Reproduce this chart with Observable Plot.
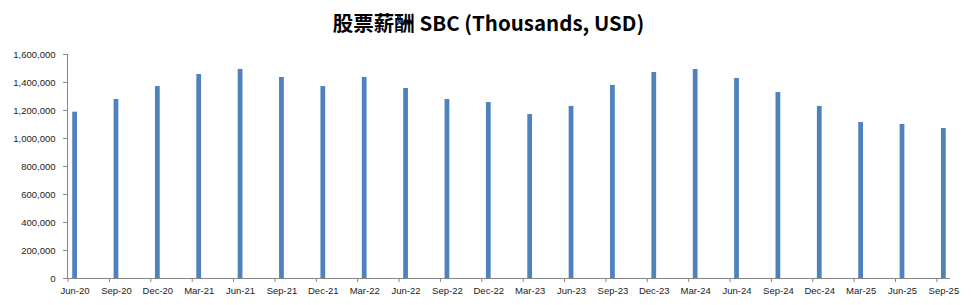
<!DOCTYPE html>
<html>
<head>
<meta charset="utf-8">
<script src="https://cdn.jsdelivr.net/npm/d3@7"></script>
<script src="https://cdn.jsdelivr.net/npm/@observablehq/plot@0.6"></script>
<style>
  html, body { margin: 0; padding: 0; background: #fff; }
  #title {
    width: 971px; height: 45px; line-height: 45px; text-align: center;
    font-family: "Noto Sans CJK SC", "Noto Sans", sans-serif;
    font-weight: bold; font-size: 20.5px; color: #000; padding-left: 6px; box-sizing: border-box;
  }
  #chart svg { display: block; }
</style>
</head>
<body>
<div id="title">股票薪酬 SBC (Thousands, USD)</div>
<div id="chart"></div>
<script>
const quarters = ["Jun-20","Sep-20","Dec-20","Mar-21","Jun-21","Sep-21","Dec-21","Mar-22","Jun-22","Sep-22","Dec-22",
                  "Mar-23","Jun-23","Sep-23","Dec-23","Mar-24","Jun-24","Sep-24","Dec-24","Mar-25","Jun-25","Sep-25"];
const sbc = [1188000,1279000,1371000,1457000,1493000,1436000,1371000,1436000,1357000,1279000,1257000,
             1171000,1229000,1379000,1471000,1493000,1429000,1329000,1229000,1114000,1100000,1071000];
const yTicks = [0,200000,400000,600000,800000,1000000,1200000,1400000,1600000];

const data = quarters.map((q, i) => ({quarter: q, value: sbc[i]}));

// band scale geometry
const pad = 0.885, step = 41.37, firstCenter = 74.6;
const r0 = firstCenter - step * (1 + pad) / 2;
const r1 = r0 + step * (quarters.length + pad);

const axisColor = "#868686";
const font = "Liberation Sans, Arial, sans-serif";

const chart = Plot.plot({
  width: 971,
  height: 260,
  marginLeft: 67,
  marginRight: 21,
  marginTop: 9,
  marginBottom: 27,
  style: {fontFamily: font, fontSize: "9.5px", color: "#222", background: "#fff"},
  x: {type: "band", domain: quarters, range: [r0, r1], padding: pad, round: false, label: null},
  y: {domain: [0, 1600000], label: null},
  marks: [
    Plot.barY(data, {x: "quarter", y: "value", fill: "#4F81BD"}),
    Plot.frame({anchor: "left", stroke: axisColor}),
    Plot.ruleY([0], {stroke: axisColor}),
    Plot.axisY({ticks: yTicks, tickFormat: d3.format(","), tickSize: 4, tickPadding: 8, stroke: axisColor, fill: "#222", label: null}),
    Plot.axisX({tickSize: 4, dx: -7, tickFormat: () => "", stroke: axisColor, label: null}),
    Plot.axisX({tickSize: 0, tickPadding: 9, fill: "#222", label: null})
  ]
});
document.getElementById("chart").appendChild(chart);
</script>
</body>
</html>
